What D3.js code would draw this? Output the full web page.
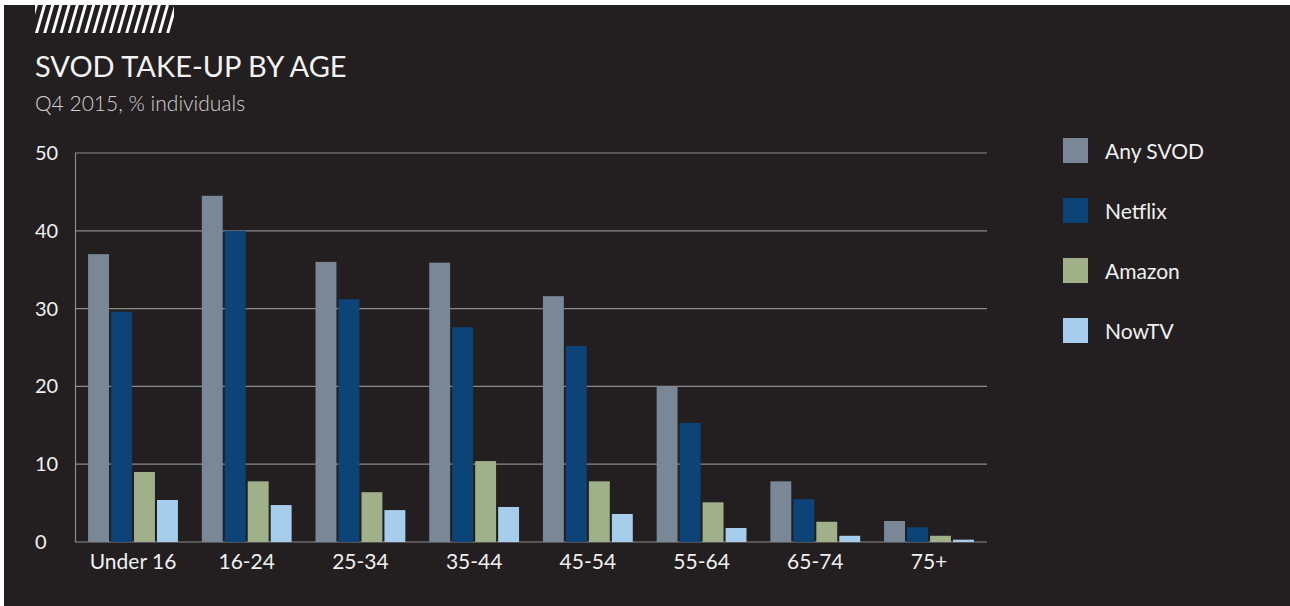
<!DOCTYPE html>
<html>
<head>
<meta charset="utf-8">
<script src="https://cdn.jsdelivr.net/npm/d3@7"></script>
<style>
  body { margin: 0; background: #fff; }
  svg { display: block; }
  text { font-family: Lato, "Open Sans", sans-serif; }
</style>
</head>
<body>
<div id="chart"></div>
<script>
// values
var categories = ["Under 16", "16-24", "25-34", "35-44", "45-54", "55-64", "65-74", "75+"];
var seriesNames = ["Any SVOD", "Netflix", "Amazon", "NowTV"];
var anySvod = [37.0, 44.5, 36.0, 35.9, 31.6, 20.0, 7.8, 2.7];
var netflix = [29.6, 40.0, 31.2, 27.6, 25.2, 15.3, 5.5, 1.9];
var amazon  = [9.0, 7.8, 6.4, 10.4, 7.8, 5.1, 2.6, 0.8];
var nowTV   = [5.4, 4.75, 4.1, 4.5, 3.6, 1.8, 0.8, 0.3];
var yTicks = [0, 10, 20, 30, 40, 50];
var colors = ["#7a8796", "#0d4477", "#a0b088", "#a6cdec"];

var seriesValues = [anySvod, netflix, amazon, nowTV];

var outerWidth = 1290;
var outerHeight = 606;
var margin = { left: 75, top: 153, right: 303, bottom: 64 };
var innerWidth  = outerWidth  - margin.left - margin.right;
var innerHeight = outerHeight - margin.top  - margin.bottom;

var svg = d3.select('#chart').append('svg')
    .attr('width', outerWidth)
    .attr('height', outerHeight);

// dark panel with thin white edge top/left
svg.append('rect')
    .attr('x', 4).attr('y', 5)
    .attr('width', outerWidth - 4).attr('height', outerHeight - 5)
    .attr('fill', '#231f20');

// hatch decoration
svg.append('clipPath').attr('id', 'hatchClip')
    .append('rect').attr('x', 35).attr('y', 5).attr('width', 139).attr('height', 28);
var hatch = svg.append('g').attr('clip-path', 'url(#hatchClip)');
hatch.selectAll('path')
    .data(d3.range(-2, 18))
    .enter().append('path')
    .attr('fill', '#ffffff')
    .attr('d', function (i) {
        var x = 35 + i * 8.2;
        return 'M' + x + ',33L' + (x + 3) + ',33L' + (x + 11) + ',5L' + (x + 8) + ',5Z';
    });

svg.append('text')
    .attr('x', 35).attr('y', 77)
    .attr('fill', '#f2f2f2')
    .style('font-size', '29px')
    .text('SVOD TAKE-UP BY AGE');

svg.append('text')
    .attr('x', 35).attr('y', 111)
    .attr('fill', '#d2d2d2')
    .style('font-size', '21px')
    .style('font-weight', 300)
    .text('Q4 2015, % individuals');

var g = svg.append('g')
    .attr('transform', 'translate(' + margin.left + ',' + margin.top + ')');

var x0 = d3.scaleBand()
    .domain(categories)
    .range([0, innerWidth])
    .paddingInner(0.21)
    .paddingOuter(0.115);

var x1 = d3.scaleBand()
    .domain(seriesNames)
    .range([0, x0.bandwidth()])
    .paddingInner(0.09);

var yScale = d3.scaleLinear().domain([0, 50]).range([innerHeight, 0]);

// gridlines
g.append('g').selectAll('line')
    .data(yTicks)
    .enter().append('line')
    .attr('x1', 0).attr('x2', innerWidth)
    .attr('y1', function (d) { return yScale(d); })
    .attr('y2', function (d) { return yScale(d); })
    .attr('stroke', '#8a8a8a')
    .attr('stroke-width', 1.2);

g.append('line')
    .attr('x1', 0.5).attr('x2', 0.5)
    .attr('y1', yScale(50)).attr('y2', yScale(0))
    .attr('stroke', '#8a8a8a')
    .attr('stroke-width', 1.2);

// y labels, left aligned
g.append('g').selectAll('text')
    .data(yTicks)
    .enter().append('text')
    .attr('x', 35 - margin.left)
    .attr('y', function (d) { return yScale(d) + 7; })
    .attr('fill', '#f0f0f0')
    .style('font-size', '20px')
    .text(function (d) { return d; });

// bars
var groups = g.append('g').selectAll('g')
    .data(categories)
    .enter().append('g')
    .attr('transform', function (d) { return 'translate(' + x0(d) + ',0)'; });

groups.selectAll('rect')
    .data(function (d, i) {
        return seriesNames.map(function (s, k) {
            return { key: s, value: seriesValues[k][i], color: colors[k] };
        });
    })
    .enter().append('rect')
    .attr('x', function (d) { return x1(d.key); })
    .attr('y', function (d) { return yScale(d.value); })
    .attr('width', x1.bandwidth())
    .attr('height', function (d) { return innerHeight - yScale(d.value); })
    .attr('fill', function (d) { return d.color; });

// x axis labels
var xAxisG = g.append('g')
    .attr('transform', 'translate(0,' + innerHeight + ')')
    .call(d3.axisBottom(x0).tickSize(0).tickPadding(0));
xAxisG.select('.domain').remove();
xAxisG.selectAll('text')
    .attr('y', 27)
    .attr('dy', 0)
    .attr('fill', '#f0f0f0')
    .style('font-size', '21px')
    .style('font-family', 'Lato, "Open Sans", sans-serif');

// legend
var legend = svg.append('g').selectAll('g')
    .data(seriesNames)
    .enter().append('g')
    .attr('transform', function (d, i) { return 'translate(1063,' + (138 + i * 60) + ')'; });
legend.append('rect')
    .attr('width', 25).attr('height', 25)
    .attr('fill', function (d, i) { return colors[i]; });
legend.append('text')
    .attr('x', 42).attr('y', 21)
    .attr('fill', '#f0f0f0')
    .style('font-size', '21px')
    .text(function (d) { return d; });
</script>
</body>
</html>
